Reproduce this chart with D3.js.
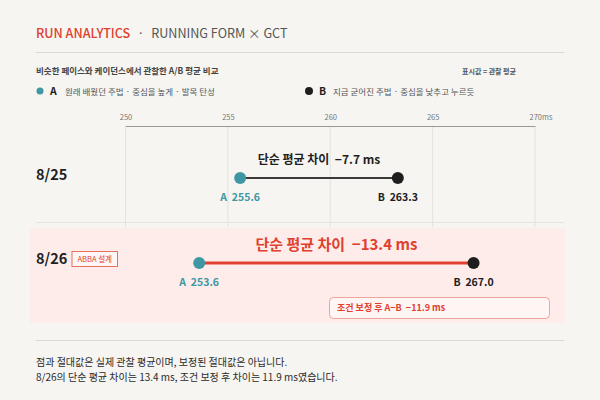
<!DOCTYPE html>
<html><head><meta charset="utf-8">
<script src="https://cdn.jsdelivr.net/npm/d3@7"></script>
<style>
html,body{margin:0;padding:0;background:#f6f5f2;}
svg{display:block;font-family:"Noto Sans CJK KR","Noto Sans",sans-serif;}
</style></head>
<body>
<script>
const dates = ["8/25", "8/26"];
const aValues = [255.6, 253.6];
const bValues = [263.3, 267.0];
const adjustedDiff = [null, -11.9];
const tickValues = [250, 255, 260, 265, 270];
const legendA = "원래 배웠던 주법 · 중심을 높게 · 발목 탄성";
const legendB = "지금 굳어진 주법 · 중심을 낮추고 누르듯";

const W = 600, H = 400;
const RED = "#e0402f", TEAL = "#3f97a3", DARK = "#1e1e1e";
const svg = d3.select("body").append("svg").attr("width", W).attr("height", H);
svg.append("rect").attr("width", W).attr("height", H).attr("fill", "#f6f5f2");

// Header
const h = svg.append("text").attr("x", 36).attr("y", 37.5).attr("font-size", 12.6);
h.append("tspan").attr("fill", RED).attr("font-weight", 500).text("RUN ANALYTICS");
h.append("tspan").attr("fill", "#666").attr("dx", 7).text("·");
h.append("tspan").attr("fill", "#555").attr("dx", 7).text("RUNNING FORM × GCT");
svg.append("line").attr("x1", 36).attr("x2", 564).attr("y1", 52.5).attr("y2", 52.5).attr("stroke", "#dcdad6");

svg.append("text").attr("x", 36).attr("y", 74).attr("font-size", 8.5).attr("font-weight", 600).attr("fill", "#444")
  .text("비슷한 페이스와 케이던스에서 관찰한 A/B 평균 비교");
svg.append("text").attr("x", 516).attr("y", 74).attr("font-size", 7).attr("font-weight", 600).attr("fill", "#555")
  .attr("text-anchor", "end").text("표시값 = 관찰 평균");

// Legend
svg.append("circle").attr("cx", 40).attr("cy", 91).attr("r", 3.5).attr("fill", TEAL);
svg.append("text").attr("x", 50).attr("y", 95).attr("font-size", 10.5).attr("font-weight", 700).attr("fill", DARK).text("A");
svg.append("text").attr("x", 65).attr("y", 94.5).attr("font-size", 8.5).attr("fill", "#555").text(legendA);
svg.append("circle").attr("cx", 309).attr("cy", 91).attr("r", 4).attr("fill", DARK);
svg.append("text").attr("x", 319).attr("y", 95).attr("font-size", 10.5).attr("font-weight", 700).attr("fill", DARK).text("B");
svg.append("text").attr("x", 333).attr("y", 94.5).attr("font-size", 8.5).attr("fill", "#555").text(legendB);

// Scale
const x = d3.scaleLinear().domain([250, 270]).range([125.5, 535]);
const rowY = [178, 263];

// Highlight band for row 2
svg.append("rect").attr("x", 30).attr("y", 228).attr("width", 535).attr("height", 95).attr("fill", "#fdecea");

// gridlines
svg.selectAll("line.grid").data(tickValues).enter().append("line")
  .attr("x1", d => x(d)).attr("x2", d => x(d)).attr("y1", 126).attr("y2", 227)
  .attr("stroke", "#e4e2de").attr("stroke-width", 1);
// row separator
svg.append("line").attr("x1", 36).attr("x2", 564).attr("y1", 222.5).attr("y2", 222.5).attr("stroke", "#e6e4e0");

// axis
const axis = d3.axisTop(x).tickValues(tickValues).tickSize(0).tickPadding(6).tickFormat(d3.format("d"));
const ag = svg.append("g").attr("transform", "translate(0,126)").call(axis);
ag.select(".domain").attr("stroke", "#999").attr("stroke-width", 1.2);
ag.selectAll("text").attr("font-size", 7.5).attr("fill", "#777").attr("font-family", "'Noto Sans CJK KR',sans-serif");
ag.selectAll(".tick").filter(d => d === 270).select("text").attr("text-anchor", "start").attr("dx", -6)
  .text(d => d + "ms");

// rows
dates.forEach((d, i) => {
  const y = rowY[i];
  const hl = i === 1;
  const diff = Math.round((aValues[i] - bValues[i]) * 10) / 10;
  svg.append("text").attr("x", 36).attr("y", hl ? 264 : 179.5).attr("font-size", 14.5).attr("font-weight", 700)
    .attr("fill", DARK).text(d);
  svg.append("line").attr("x1", x(aValues[i])).attr("x2", x(bValues[i])).attr("y1", y).attr("y2", y)
    .attr("stroke", hl ? RED : "#3a3a3a").attr("stroke-width", hl ? 3 : 1.8);
  svg.append("circle").attr("cx", x(aValues[i])).attr("cy", y).attr("r", 6).attr("fill", TEAL);
  svg.append("circle").attr("cx", x(bValues[i])).attr("cy", y).attr("r", 6).attr("fill", DARK);
  svg.append("text").attr("x", x(aValues[i])).attr("y", y + 23).attr("text-anchor", "middle")
    .attr("font-size", 10.5).attr("font-weight", 700).attr("fill", TEAL).attr("xml:space", "preserve")
    .text("A  " + aValues[i].toFixed(1));
  svg.append("text").attr("x", x(bValues[i])).attr("y", y + 23).attr("text-anchor", "middle")
    .attr("font-size", 10.5).attr("font-weight", 700).attr("fill", DARK).attr("xml:space", "preserve")
    .text("B  " + bValues[i].toFixed(1));
  const mid = (x(aValues[i]) + x(bValues[i])) / 2;
  svg.append("text").attr("x", mid).attr("y", hl ? y - 13 : y - 14).attr("text-anchor", "middle")
    .attr("font-size", hl ? 15 : 12).attr("font-weight", 700).attr("fill", hl ? RED : DARK)
    .attr("xml:space", "preserve")
    .text("단순 평균 차이  " + "−" + Math.abs(diff).toFixed(1) + " ms");
  if (adjustedDiff[i] !== null) {
    svg.append("rect").attr("x", 329.5).attr("y", 297.5).attr("width", 220).attr("height", 21).attr("rx", 4)
      .attr("fill", "#fff6f4").attr("stroke", "#eea59b").attr("stroke-width", 1);
    svg.append("text").attr("x", 337).attr("y", 311).attr("font-size", 9).attr("font-weight", 700)
      .attr("fill", RED).attr("xml:space", "preserve")
      .text("조건 보정 후 A−B  −" + Math.abs(adjustedDiff[i]).toFixed(1) + " ms");
  }
});

// ABBA tag
svg.append("rect").attr("x", 72).attr("y", 251.5).attr("width", 45.5).attr("height", 15).attr("fill", "#fff7f5")
  .attr("stroke", "#e8705f").attr("stroke-width", 1);
svg.append("text").attr("x", 94.75).attr("y", 262).attr("text-anchor", "middle").attr("font-size", 7.5)
  .attr("fill", RED).text("ABBA 설계");

// footer
svg.append("line").attr("x1", 36).attr("x2", 564).attr("y1", 340.5).attr("y2", 340.5).attr("stroke", "#dcdad6");
svg.append("text").attr("x", 36).attr("y", 365.5).attr("font-size", 10).attr("fill", "#2a2a2a")
  .text("점과 절대값은 실제 관찰 평균이며, 보정된 절대값은 아닙니다.");
svg.append("text").attr("x", 36).attr("y", 381).attr("font-size", 10).attr("fill", "#2a2a2a")
  .text("8/26의 단순 평균 차이는 13.4 ms, 조건 보정 후 차이는 11.9 ms였습니다.");
</script>
</body></html>
